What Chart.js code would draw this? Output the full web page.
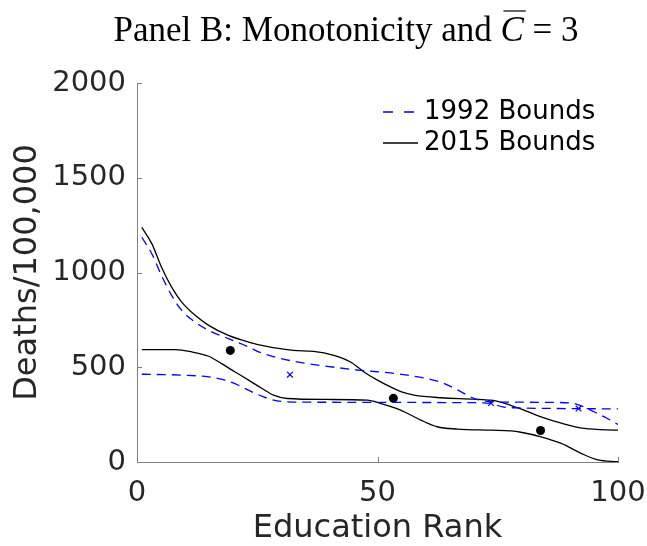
<!DOCTYPE html>
<html>
<head>
<meta charset="utf-8">
<script src="https://cdn.jsdelivr.net/npm/chart.js@4/dist/chart.umd.min.js"></script>
<style>
html,body{margin:0;padding:0;background:#fff;}
#wrap{width:647px;height:546px;position:relative;}
</style>
</head>
<body>
<div id="wrap"><canvas id="c" width="647" height="546"></canvas></div>
<script>
// ---- Data ----
const titleMain = "Panel B: Monotonicity and ";
const titleVar = "C";
const titleTail = " = 3";
const xLabel = "Education Rank";
const yLabel = "Deaths/100,000";
const xTicks = [0, 50, 100];
const yTicks = [0, 500, 1000, 1500, 2000];

const upper1992X = [1, 3.1, 5.1, 7.2, 9.3, 12.1, 14.9, 19, 23.2, 25.6, 28.4, 32.5, 39.5, 46.4, 52.7, 56.2, 60.4, 63.9, 67.4, 70.1, 73.6, 77.8, 84, 90, 92.5, 95, 97.6, 100];
const upper1992Y = [1186, 1098, 984, 879, 800, 738, 695, 651, 607, 578, 556, 532, 505, 484, 470, 458, 440, 414, 370, 335, 318, 316, 315, 312, 295, 265, 232, 198];
const lower1992X = [1, 10, 14.9, 18.3, 21.1, 23.9, 26.3, 29.1, 32.5, 50, 60, 70, 73.5, 76, 80, 90, 100];
const lower1992Y = [463, 458, 449, 432, 405, 370, 344, 323, 316, 315, 314, 313, 309, 291, 285, 282, 280];

const upper2015X = [1, 3.1, 5.1, 7.2, 9.3, 12.1, 14.9, 19, 23.2, 26.7, 32.5, 36.7, 40.9, 44.4, 47.2, 50, 52.7, 55, 57.6, 63.2, 70.1, 73.6, 75.6, 77.8, 79.8, 84, 88.2, 93, 100];
const upper2015Y = [1238, 1151, 1028, 923, 844, 774, 721, 668, 633, 611, 589, 584, 563, 528, 475, 432, 396, 370, 353, 339, 332, 326, 316, 298, 280, 238, 205, 177, 168];
const lower2015X = [1, 7.9, 11.4, 14.9, 17.6, 20.4, 23.2, 26, 28.4, 31.2, 39.5, 47.9, 50.6, 54.8, 59, 62.4, 66.6, 73.6, 77.8, 79.8, 84, 88.2, 92.3, 95.8, 100];
const lower2015Y = [593, 593, 581, 558, 519, 475, 432, 388, 353, 335, 330, 326, 309, 274, 221, 186, 174, 168, 164, 157, 133, 98, 46, 11, 2];

const points1992X = [31.8, 73.6, 91.8];
const points1992Y = [461, 311, 282];
const points2015X = [19.4, 53.3, 83.9];
const points2015Y = [589, 336, 166];

const legendLabels = ["1992 Bounds", "2015 Bounds"];

// ---- Build ----
const pts = (xs, ys) => xs.map((x, i) => ({x: x, y: ys[i]}));
const BLUE = '#0000ff';
const TXT = '#262626';
const AXIS = '#808080';

const lineDs = (label, xs, ys, color, dash) => ({
  label: label, data: pts(xs, ys), borderColor: color, borderDash: dash, borderWidth: 1.3,
  pointRadius: 0, cubicInterpolationMode: 'monotone', showLine: true, fill: false
});

const datasets = [
  lineDs(legendLabels[0], upper1992X, upper1992Y, BLUE, [9, 6]),
  lineDs('_1992lo', lower1992X, lower1992Y, BLUE, [9, 6]),
  lineDs(legendLabels[1], upper2015X, upper2015Y, '#000', []),
  lineDs('_2015lo', lower2015X, lower2015Y, '#000', []),
  {label: '_1992pts', data: pts(points1992X, points1992Y), showLine: false, pointStyle: 'crossRot', pointRadius: 4, borderColor: BLUE, backgroundColor: BLUE, pointBorderWidth: 1.2},
  {label: '_2015pts', data: pts(points2015X, points2015Y), showLine: false, pointStyle: 'circle', pointRadius: 4.5, borderColor: '#000', backgroundColor: '#000', pointBorderWidth: 0}
];

const deco = {
  id: 'deco',
  afterDraw(chart) {
    const ctx = chart.ctx;
    const a = chart.chartArea;
    const xs = chart.scales.x, ys = chart.scales.y;
    ctx.save();
    // inward ticks
    ctx.strokeStyle = AXIS;
    ctx.lineWidth = 1;
    ctx.beginPath();
    yTicks.forEach(v => { const y = Math.round(ys.getPixelForValue(v)) + 0.5; ctx.moveTo(a.left, y); ctx.lineTo(a.left + 5, y); });
    xTicks.forEach(v => { const x = Math.round(xs.getPixelForValue(v)) + 0.5; ctx.moveTo(x, a.bottom); ctx.lineTo(x, a.bottom - 5); });
    ctx.stroke();
    // title
    ctx.fillStyle = '#000';
    ctx.textBaseline = 'alphabetic';
    const fN = "35px 'Liberation Serif'";
    const fI = "italic 35px 'Liberation Serif'";
    ctx.font = fN; const w1 = ctx.measureText(titleMain).width; const w3 = ctx.measureText(titleTail).width;
    ctx.font = fI; const w2 = ctx.measureText(titleVar).width;
    const total = w1 + w2 + w3;
    let tx = 346 - total / 2;
    const ty = 41;
    ctx.textAlign = 'left';
    ctx.font = fN; ctx.fillText(titleMain, tx, ty);
    ctx.font = fI; ctx.fillText(titleVar, tx + w1, ty);
    ctx.strokeStyle = '#000'; ctx.lineWidth = 1.2;
    ctx.beginPath(); ctx.moveTo(tx + w1 + 3, 11); ctx.lineTo(tx + w1 + w2 + 2, 11); ctx.stroke();
    ctx.font = fN; ctx.fillText(titleTail, tx + w1 + w2, ty);
    // legend
    ctx.font = "26px 'DejaVu Sans'";
    ctx.textBaseline = 'middle';
    ctx.fillStyle = '#000';
    ctx.lineWidth = 1.3;
    ctx.strokeStyle = BLUE; ctx.setLineDash([10, 11]);
    ctx.beginPath(); ctx.moveTo(383, 112); ctx.lineTo(414, 112); ctx.stroke();
    ctx.setLineDash([]);
    ctx.strokeStyle = '#000';
    ctx.beginPath(); ctx.moveTo(383, 143); ctx.lineTo(418, 143); ctx.stroke();
    ctx.fillText(legendLabels[0], 424, 112);
    ctx.fillText(legendLabels[1], 424, 143);
    ctx.restore();
  }
};

new Chart(document.getElementById('c'), {
  type: 'scatter',
  data: {datasets: datasets},
  options: {
    responsive: false,
    animation: false,
    layout: {padding: {top: 83, right: 29, left: 0, bottom: 0}},
    plugins: {legend: {display: false}, tooltip: {enabled: false}, title: {display: false}},
    scales: {
      x: {
        type: 'linear', min: 0, max: 100,
        afterFit(s) { s.height = 84; s.paddingLeft = 0; s.paddingRight = 0; },
        afterBuildTicks(s) { s.ticks = xTicks.map(v => ({value: v})); },
        grid: {display: false, drawTicks: false},
        border: {display: true, color: AXIS, width: 1},
        ticks: {color: TXT, font: {family: 'DejaVu Sans', size: 29}, padding: 14, maxRotation: 0, callback: v => String(v)},
        title: {display: true, text: xLabel, color: TXT, font: {family: 'DejaVu Sans', size: 32}, padding: {top: 0, bottom: -2}}
      },
      y: {
        type: 'linear', min: 0, max: 2000,
        afterFit(s) { s.width = 137; s.paddingTop = 0; s.paddingBottom = 0; },
        afterBuildTicks(s) { s.ticks = yTicks.map(v => ({value: v})); },
        grid: {display: false, drawTicks: false},
        border: {display: true, color: AXIS, width: 1},
        ticks: {color: TXT, font: {family: 'DejaVu Sans', size: 29}, padding: 11, callback: v => String(v)},
        title: {display: true, text: yLabel, color: TXT, font: {family: 'DejaVu Sans', size: 32}, padding: {top: 8, bottom: 0}}
      }
    }
  },
  plugins: [deco]
});
</script>
</body>
</html>
